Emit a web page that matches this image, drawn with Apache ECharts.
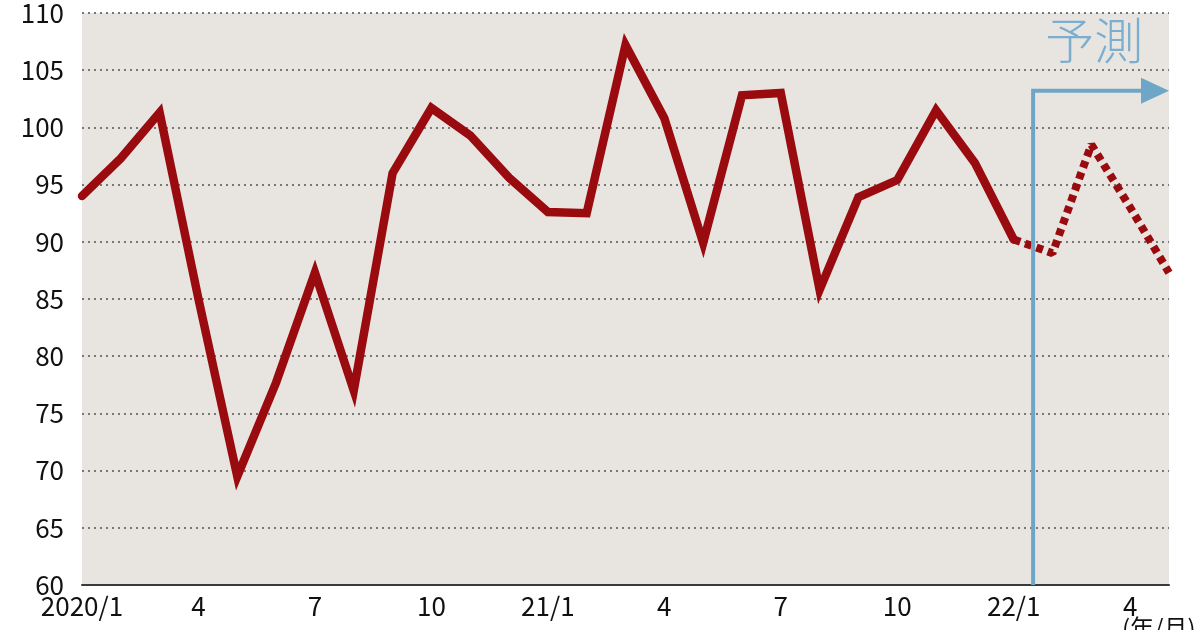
<!DOCTYPE html>
<html>
<head>
<meta charset="utf-8">
<script src="https://cdn.jsdelivr.net/npm/echarts@6/dist/echarts.min.js"></script>
<style>
  html, body { margin: 0; padding: 0; background: #fff; }
  #chart { width: 1200px; height: 630px; }
</style>
</head>
<body>
<div id="chart"></div>
<script>
// 月ラベル (2020/1 〜 2022/5)
const months = [
  '2020/1', '2', '3', '4', '5', '6', '7', '8', '9', '10', '11', '12',
  '21/1', '2', '3', '4', '5', '6', '7', '8', '9', '10', '11', '12',
  '22/1', '2', '3', '4', '5'
];
// 実績 (2020/1 〜 2022/1)
const actual = [
  94.0, 97.3, 101.3, 85.0, 69.5, 77.7, 87.3, 77.0, 96.0, 101.7, 99.3, 95.6,
  92.6, 92.5, 107.2, 100.8, 89.9, 102.8, 103.0, 85.8, 93.9, 95.4, 101.5, 96.9,
  90.2
];
// 予測 (2022/1 〜 2022/5)
const forecast = [90.2, 89.0, 98.5, 93.0, 87.3];

const yTicks = [60, 65, 70, 75, 80, 85, 90, 95, 100, 105, 110];

const actualData = months.map((m, i) => (i < actual.length ? actual[i] : '-'));
const forecastData = months.map((m, i) => {
  const k = i - (actual.length - 1);
  return k >= 0 ? forecast[k] : '-';
});

const lineColor = '#9a0b0f';
const blue = '#6ea6c8';
const font = '"Noto Sans CJK JP", "Noto Sans", sans-serif';

const chart = echarts.init(document.getElementById('chart'));
chart.setOption({
  animation: false,
  grid: {
    left: 82, right: 31, top: 13, bottom: 45,
    show: true,
    backgroundColor: '#e8e4df',
    borderWidth: 0
  },
  xAxis: {
    type: 'category',
    data: months,
    boundaryGap: false,
    axisLine: { lineStyle: { color: '#3a3a3a', width: 2 } },
    axisTick: { show: false },
    axisLabel: {
      interval: 2,
      color: '#111',
      fontSize: 26,
      fontFamily: font,
      margin: 8
    }
  },
  yAxis: {
    type: 'value',
    min: yTicks[0],
    max: yTicks[yTicks.length - 1],
    interval: 5,
    axisLine: { show: false },
    axisTick: { show: false },
    axisLabel: {
      color: '#111',
      fontSize: 26,
      fontFamily: font,
      margin: 18,
      verticalAlign: 'middle'
    },
    splitLine: {
      lineStyle: { color: '#777', type: [2, 4], width: 2 }
    }
  },
  series: [
    {
      type: 'line',
      data: actualData,
      symbol: 'none',
      lineStyle: { color: lineColor, width: 8.5, cap: 'round', join: 'miter' },
      z: 5
    },
    {
      type: 'line',
      data: forecastData,
      symbol: 'none',
      lineStyle: { color: lineColor, width: 8, type: [7, 5] },
      z: 5
    }
  ]
});

// 予測矢印
const n = actual.length - 1;
const x0 = chart.convertToPixel({ xAxisIndex: 0 }, n);
const x1 = chart.convertToPixel({ xAxisIndex: 0 }, n + 1);
const xv = (x0 + x1) / 2;
const yBase = chart.convertToPixel({ yAxisIndex: 0 }, yTicks[0]);
const yArrow = chart.convertToPixel({ yAxisIndex: 0 }, 103.2);
const xEnd = chart.convertToPixel({ xAxisIndex: 0 }, months.length - 1);

chart.setOption({
  graphic: [
    {
      type: 'polyline',
      shape: { points: [[xv, yBase], [xv, yArrow], [xEnd - 26, yArrow]] },
      style: { stroke: blue, lineWidth: 4, fill: null },
      z: 10
    },
    {
      type: 'polygon',
      shape: { points: [[xEnd - 28, yArrow - 13], [xEnd, yArrow], [xEnd - 28, yArrow + 13]] },
      style: { fill: blue },
      z: 10
    },
    {
      type: 'text',
      left: xv + 12,
      top: 16,
      style: { text: '予測', fill: '#7aaed0', font: '300 49px ' + font },
      z: 10
    },
    {
      type: 'text',
      left: 1122,
      top: 616,
      style: { text: '(年/月)', fill: '#111', font: '24px ' + font },
      z: 10
    }
  ]
});
</script>
</body>
</html>
